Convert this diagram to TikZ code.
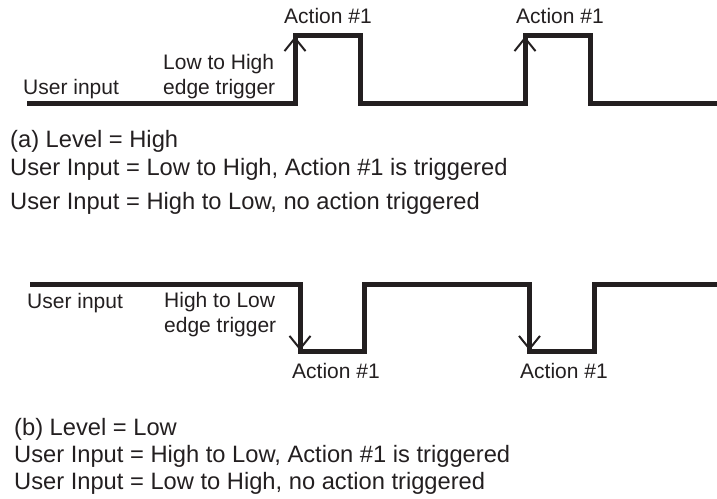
\documentclass[tikz,border=0pt]{standalone}
\usepackage{fontspec}
\setmainfont{Liberation Sans}
\usetikzlibrary{arrows.meta}
\definecolor{ink}{HTML}{231F20}
\begin{document}
\begin{tikzpicture}[x=1pt,y=-1pt,
  wave/.style={draw=ink,line width=5pt,line join=miter,line cap=butt},
  edgearrow/.style={draw=ink,line width=2pt,-{Straight Barb[length=13pt,width=21pt,line width=2pt]}},
  lbl/.style={anchor=base west,inner sep=0pt,text=ink,font=\fontsize{21}{25}\selectfont,align=left},
  desc/.style={anchor=base west,inner sep=0pt,text=ink,font=\fontsize{23.7}{27}\selectfont}]
\useasboundingbox (0,0) rectangle (717,498);

% ---- (a) rising-edge trigger ----
\coordinate (a0) at (27,103.5);
\coordinate (a1) at (295,103.5);
\coordinate (a2) at (295,35.5);
\coordinate (a3) at (360,35.5);
\coordinate (a4) at (360,103.5);
\coordinate (a5) at (525,103.5);
\coordinate (a6) at (525,35.5);
\coordinate (a7) at (590,35.5);
\coordinate (a8) at (590,103.5);
\coordinate (a9) at (717,103.5);
\draw[wave] (a0) -- (a1) -- (a2) -- (a3) -- (a4) -- (a5) -- (a6) -- (a7) -- (a8) -- (a9);
\draw[edgearrow] (a1) -- ([yshift=-1pt]a2);
\draw[edgearrow] (a5) -- ([yshift=-1pt]a6);

% multi-line labels: base anchor sits on the last line
\node[lbl] (ainput) at (23,94) {User input};
\node[lbl] (aedge) at (163,94) {Low to High\\edge trigger};
\node[lbl] (aact1) at (284,23.5) {Action \#1};
\node[lbl] (aact2) at (516,23.5) {Action \#1};

\node[desc] (alevel) at (10,147.5) {(a) Level = High};
\node[desc] (aon) at (10,175.5) {User Input = Low to High, Action \#1 is triggered};
\node[desc] (aoff) at (10,209) {User Input = High to Low, no action triggered};

% ---- (b) falling-edge trigger ----
\coordinate (b0) at (30,284.5);
\coordinate (b1) at (300,284.5);
\coordinate (b2) at (300,351.5);
\coordinate (b3) at (364,351.5);
\coordinate (b4) at (364,284.5);
\coordinate (b5) at (529.5,284.5);
\coordinate (b6) at (529.5,351.5);
\coordinate (b7) at (594.5,351.5);
\coordinate (b8) at (594.5,284.5);
\coordinate (b9) at (717,284.5);
\draw[wave] (b0) -- (b1) -- (b2) -- (b3) -- (b4) -- (b5) -- (b6) -- (b7) -- (b8) -- (b9);
\draw[edgearrow] (b1) -- ([yshift=1pt]b2);
\draw[edgearrow] (b5) -- ([yshift=1pt]b6);

\node[lbl] (binput) at (27,308) {User input};
\node[lbl] (bedge) at (164,332) {High to Low\\edge trigger};
\node[lbl] (bact1) at (292,378) {Action \#1};
\node[lbl] (bact2) at (520,378) {Action \#1};

\node[desc] (blevel) at (14,435) {(b) Level = Low};
\node[desc] (bon) at (14,462) {User Input = High to Low, Action \#1 is triggered};
\node[desc] (boff) at (14,489) {User Input = Low to High, no action triggered};
\end{tikzpicture}
\end{document}
